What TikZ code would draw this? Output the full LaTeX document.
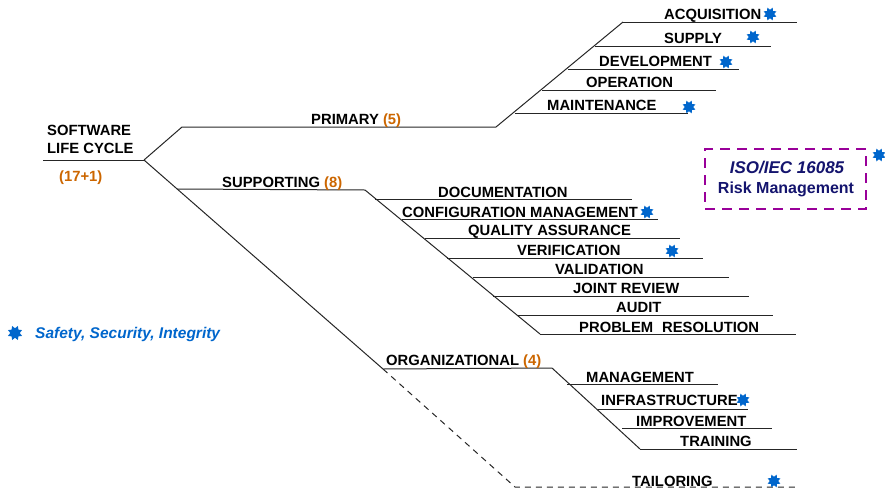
\documentclass[tikz,border=0pt]{standalone}
\usepackage{fontspec}
\setmainfont{Liberation Sans}
\usetikzlibrary{shapes.geometric}
\definecolor{orng}{RGB}{204,102,0}
\definecolor{blu}{RGB}{0,102,204}
\definecolor{navyb}{RGB}{20,20,110}
\definecolor{purp}{RGB}{153,0,153}
\begin{document}
\begin{tikzpicture}[x=1pt,y=-1pt,
 lbl/.style={anchor=base west, inner sep=0, font=\fontsize{14.8}{17}\selectfont\bfseries},
 ln/.style={line width=1pt, black!85},
 ast/.style={star, star points=8, star point ratio=0.62, fill=blu, minimum size=8.5pt, inner sep=0},
 num/.style={text=orng},
]
\useasboundingbox (0,0) rectangle (885,493);
% skeleton coordinates
\coordinate (root0) at (43,160);
\coordinate (root) at (144,160);
\coordinate (p0) at (182,127);
\coordinate (p1) at (496,127);
\coordinate (ptop) at (623,22);
\coordinate (s0) at (177,189);
\coordinate (s1) at (365,190);
\coordinate (sbot) at (540,334);
\coordinate (o0) at (383,369);
\coordinate (o1) at (552,368);
\coordinate (obot) at (640,449);
\coordinate (t0) at (515,487);
\coordinate (t1) at (797,487);

\draw[ln] (root0) -- (root);
\draw[ln] (root) -- (p0) -- (p1) -- (ptop);
\draw[ln] (root) -- (o0);
\draw[ln] (s0) -- (s1) -- (sbot);
\draw[ln] (o0) -- (o1) -- (obot);
\draw[ln, dash pattern=on 6pt off 5pt] (o0) -- (t0) -- (t1);

% primary leaves
\coordinate (a1) at (797,22);
\coordinate (b0) at (595,46); \coordinate (b1) at (771,46);
\coordinate (c0) at (568,69); \coordinate (c1) at (739,69);
\coordinate (d0) at (542,90); \coordinate (d1) at (716,90);
\coordinate (e0) at (515,113); \coordinate (e1) at (688,113);
\draw[ln] (ptop) -- (a1);
\draw[ln] (b0) -- (b1);
\draw[ln] (c0) -- (c1);
\draw[ln] (d0) -- (d1);
\draw[ln] (e0) -- (e1);

% supporting leaves
\coordinate (sa0) at (375,199); \coordinate (sa1) at (632,199);
\coordinate (sb0) at (402,219); \coordinate (sb1) at (658,219);
\coordinate (sc0) at (425,238); \coordinate (sc1) at (680,238);
\coordinate (sd0) at (447,258); \coordinate (sd1) at (703,258);
\coordinate (se0) at (473,277); \coordinate (se1) at (729,277);
\coordinate (sf0) at (493,296); \coordinate (sf1) at (749,296);
\coordinate (sg0) at (518,315); \coordinate (sg1) at (773,315);
\coordinate (sh1) at (796,334);
\foreach \k in {sa,sb,sc,sd,se,sf,sg} {\draw[ln] (\k0) -- (\k1);}
\draw[ln] (sbot) -- (sh1);

% organizational leaves
\coordinate (oa0) at (567,384); \coordinate (oa1) at (718,384);
\coordinate (ob0) at (598,409); \coordinate (ob1) at (748,409);
\coordinate (oc0) at (622,428); \coordinate (oc1) at (772,428);
\coordinate (od1) at (797,449);
\foreach \k in {oa,ob,oc} {\draw[ln] (\k0) -- (\k1);}
\draw[ln] (obot) -- (od1);

% labels
\node[lbl] (sw) at (47,135) {SOFTWARE};
\node[lbl] (lc) at (47,153) {LIFE CYCLE};
\node[lbl, num] (cnt) at (59,181) {(17+1)};
\node[lbl] (prim) at (311,124) {PRIMARY \textcolor{orng}{(5)}};
\node[lbl] (supp) at (222,187) {SUPPORTING \textcolor{orng}{(8)}};
\node[lbl] (org) at (386,365) {ORGANIZATIONAL \textcolor{orng}{(4)}};

\node[lbl] (acq) at (664,19) {ACQUISITION};
\node[lbl] (sup) at (664,43) {SUPPLY};
\node[lbl] (dev) at (599,66) {DEVELOPMENT};
\node[lbl] (ope) at (586,87) {OPERATION};
\node[lbl] (mai) at (547,110) {MAINTENANCE};

\node[lbl] (doc) at (438,197) {DOCUMENTATION};
\node[lbl] (cfg) at (402,217) {CONFIGURATION MANAGEMENT};
\node[lbl] (qa) at (468,235) {QUALITY ASSURANCE};
\node[lbl] (ver) at (517,255) {VERIFICATION};
\node[lbl] (val) at (555,274) {VALIDATION};
\node[lbl] (jr) at (573,293) {JOINT REVIEW};
\node[lbl] (aud) at (616,312) {AUDIT};
\node[lbl] (pr) at (579,332) {PROBLEM\hspace{0.6em}RESOLUTION};

\node[lbl] (mgt) at (586,382) {MANAGEMENT};
\node[lbl] (inf) at (601,405) {INFRASTRUCTURE};
\node[lbl] (imp) at (636,426) {IMPROVEMENT};
\node[lbl] (trn) at (680,446) {TRAINING};
\node[lbl] (tai) at (632,486) {TAILORING};

% stars
\node[ast] (st1) at (770,14) {};
\node[ast] (st2) at (753,37) {};
\node[ast] (st3) at (726,62) {};
\node[ast] (st4) at (689,107) {};
\node[ast] (st5) at (647,212) {};
\node[ast] (st6) at (672,251) {};
\node[ast] (st7) at (743,400) {};
\node[ast] (st8) at (774,481) {};
\node[ast] (st9) at (879,155) {};
\node[ast, minimum size=9.5pt] (st10) at (15,333) {};

% risk management box
\node[draw=purp, line width=2.5pt, dash pattern=on 10pt off 7pt, minimum width=161pt, minimum height=60pt, inner sep=0] (box) at (785.5,179) {};
\node[anchor=base, inner sep=0, text=navyb, font=\fontsize{17}{19}\selectfont\bfseries\itshape] (iso) at (787,173) {ISO/IEC 16085};
\node[anchor=base, inner sep=0, text=navyb, font=\fontsize{16}{19}\selectfont\bfseries] (risk) at (786,193) {Risk Management};

% legend
\node[anchor=base west, inner sep=0, text=blu, font=\fontsize{15.5}{18}\selectfont\bfseries\itshape] (leg) at (35,338) {Safety, Security, Integrity};
\end{tikzpicture}
\end{document}
